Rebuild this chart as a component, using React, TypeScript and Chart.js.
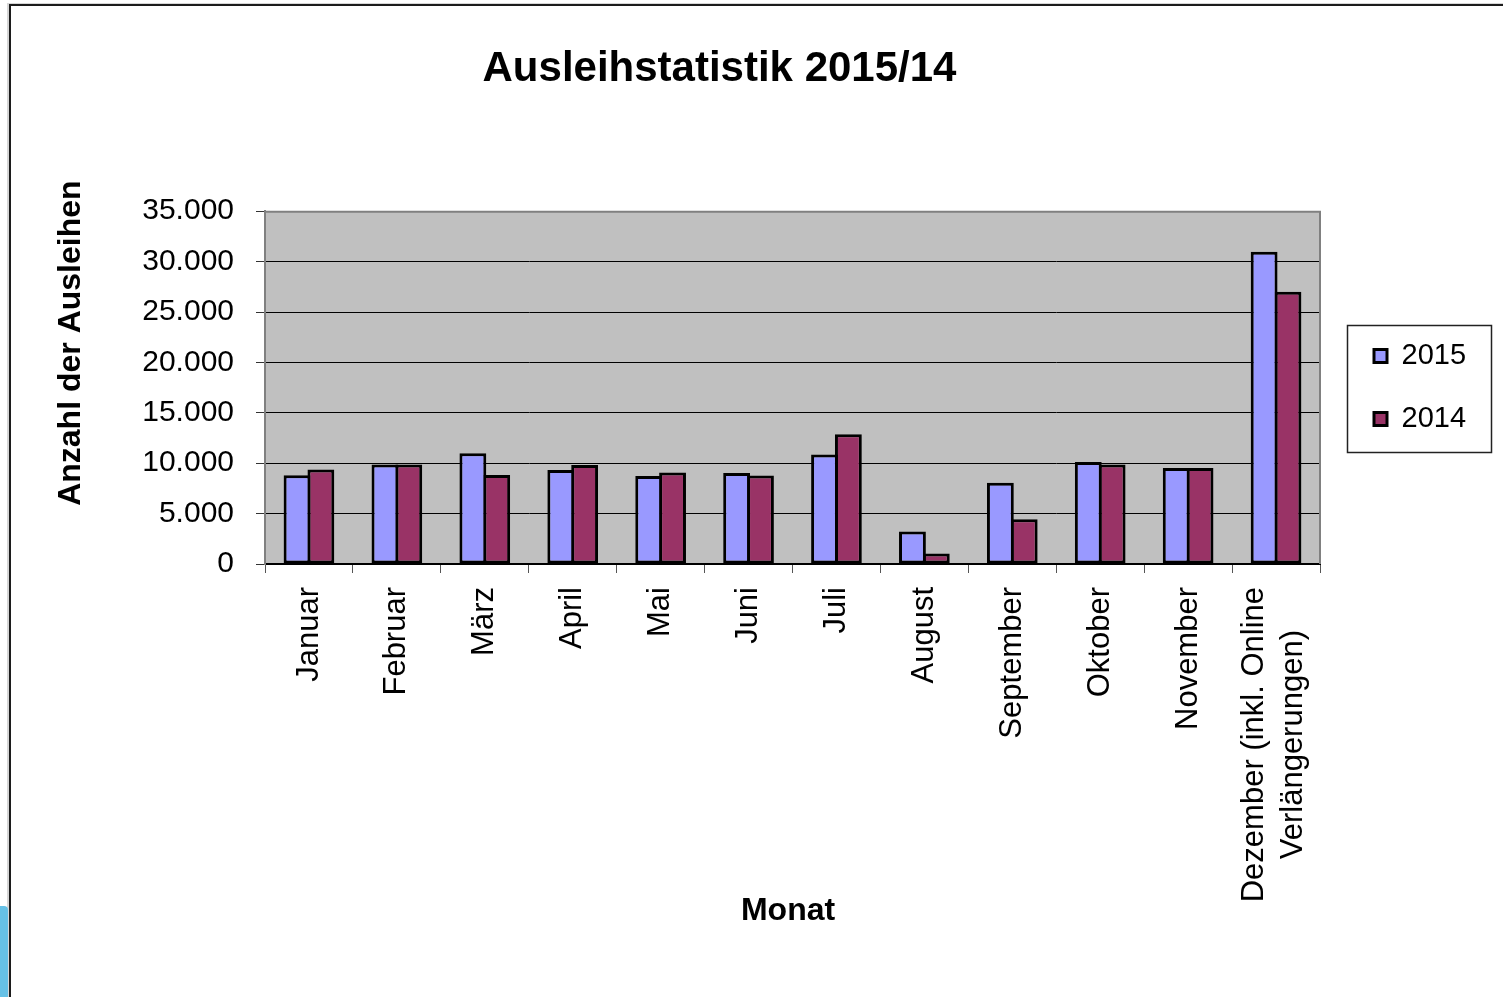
import React, { useEffect, useRef } from 'react';
import { Chart, registerables } from 'chart.js';

Chart.register(...registerables);

const FONT = "'Liberation Sans', Arial, Helvetica, sans-serif";

const CHART_TITLE = 'Ausleihstatistik 2015/14';
const Y_TITLE = 'Anzahl der Ausleihen';
const X_TITLE = 'Monat';

const MONTHS: (string | string[])[] = [
  'Januar',
  'Februar',
  'März',
  'April',
  'Mai',
  'Juni',
  'Juli',
  'August',
  'September',
  'Oktober',
  'November',
  ['Dezember (inkl. Online', 'Verlängerungen)'],
];

const SERIES_LABELS = ['2015', '2014'];
const VALUES_2015 = [8800, 9870, 10990, 9330, 8730, 9030, 10860, 3230, 8070, 10120, 9530, 30970];
const VALUES_2014 = [9370, 9870, 8830, 9820, 9070, 8770, 12880, 1040, 4450, 9860, 9530, 27000];

const Y_MIN = 0;
const Y_MAX = 35000;
const Y_STEP = 5000;

const fmt = (v: number) => String(Math.round(v)).replace(/\B(?=(\d{3})+(?!\d))/g, '.');

const decorPlugin = {
  id: 'decor',
  beforeDraw(chart: any) {
    const { ctx, chartArea: a } = chart;
    ctx.save();
    ctx.fillStyle = '#C0C0C0';
    ctx.fillRect(a.left, a.top, a.right - a.left, a.bottom - a.top);
    ctx.restore();
    // center multi-line category labels around their tick
    const xs = chart.scales.x;
    const items = xs.getLabelItems();
    items.forEach((item: any) => {
      if (!Array.isArray(item.label) || item._centered) return;
      const lh = item.font.lineHeight;
      const n = item.label.length;
      ctx.save();
      ctx.font = item.font.string;
      const w = Math.max(...item.label.map((s: string) => ctx.measureText(s).width));
      ctx.restore();
      const tr = item.options.translation;
      item.options.translation = [tr[0] - ((n - 1) * lh) / 2 - 2, tr[1] + w / 2];
      item.options.textAlign = 'center';
      item._centered = true;
    });
  },
  beforeDatasetsDraw(chart: any) {
    const { ctx, chartArea: a } = chart;
    ctx.save();
    ctx.strokeStyle = '#808080';
    ctx.lineWidth = 2;
    ctx.beginPath();
    ctx.moveTo(a.left, a.top + 0.5);
    ctx.lineTo(a.right, a.top + 0.5);
    ctx.lineTo(a.right, a.bottom);
    ctx.stroke();
    ctx.restore();
  },
  afterDraw(chart: any) {
    const { ctx } = chart;
    const hb = chart.legend && chart.legend.legendHitBoxes;
    if (!hb || !hb.length) return;
    const first = hb[0];
    const last = hb[hb.length - 1];
    const left = first.left - 27;
    const right = first.left + 117;
    const top = first.top - 17;
    const bottom = last.top + last.height + 18;
    ctx.save();
    ctx.strokeStyle = '#222';
    ctx.lineWidth = 1.5;
    ctx.strokeRect(Math.round(left) + 0.5, Math.round(top) + 0.5, Math.round(right - left), Math.round(bottom - top));
    ctx.restore();
  },
};

export default function App() {
  const canvasRef = useRef<HTMLCanvasElement | null>(null);

  useEffect(() => {
    if (!canvasRef.current) return;
    Chart.defaults.font.family = FONT;
    Chart.defaults.color = '#000';
    const chart = new Chart(canvasRef.current, {
      type: 'bar',
      data: {
        labels: MONTHS,
        datasets: [
          {
            label: SERIES_LABELS[0],
            data: VALUES_2015,
            backgroundColor: '#9999FF',
            borderColor: '#000',
            borderWidth: 3,
            borderSkipped: false,
            categoryPercentage: 0.5425,
            barPercentage: 1.126,
          },
          {
            label: SERIES_LABELS[1],
            data: VALUES_2014,
            backgroundColor: '#993366',
            borderColor: '#000',
            borderWidth: 3,
            borderSkipped: false,
            categoryPercentage: 0.5425,
            barPercentage: 1.126,
          },
        ],
      },
      options: {
        responsive: false,
        animation: false,
        devicePixelRatio: 1,
        events: [],
        layout: { padding: { left: 0, right: 29, top: 0, bottom: 63 } },
        plugins: {
          title: {
            display: true,
            text: CHART_TITLE + '   ',
            color: '#000',
            font: { size: 42, weight: 'bold', family: FONT },
            padding: { top: 44.4, bottom: 116.4 },
          },
          legend: {
            display: true,
            position: 'right',
            fullSize: false,
            align: 'center',
            maxWidth: 134,
            labels: {
              boxWidth: 13,
              boxHeight: 13,
              padding: 34,
              color: '#000',
              font: { size: 29, family: FONT },
            },
          },
          tooltip: { enabled: false },
        },
        scales: {
          x: {
            type: 'category',
            position: 'bottom',
            offset: true,
            grid: {
              offset: true,
              drawOnChartArea: false,
              drawTicks: true,
              tickLength: 9,
              color: '#555',
              lineWidth: 1,
            },
            border: { display: true, color: '#000', width: 2 },
            ticks: {
              autoSkip: false,
              minRotation: 90,
              maxRotation: 90,
              padding: 14,
              color: '#000',
              font: { size: 31, lineHeight: 1.25, family: FONT },
            },
            title: {
              display: true,
              text: X_TITLE + ' ',
              color: '#000',
              font: { size: 32, weight: 'bold', family: FONT },
              padding: { top: 4, bottom: 4 },
            },
            afterFit: (s: any) => {
              s.height = 370;
            },
          },
          y: {
            position: 'left',
            min: Y_MIN,
            max: Y_MAX,
            ticks: {
              stepSize: Y_STEP,
              padding: 22,
              color: '#000',
              font: { size: 30, family: FONT },
              callback: (v: any) => fmt(Number(v)),
            },
            grid: {
              color: '#000',
              lineWidth: 1,
              drawTicks: true,
              tickLength: 9,
              tickColor: '#333',
            },
            border: { display: true, color: '#808080', width: 2 },
            title: {
              display: true,
              text: ' '.repeat(10) + Y_TITLE,
              color: '#000',
              font: { size: 32, weight: 'bold', family: FONT },
              padding: { top: 52, bottom: 0 },
            },
            afterFit: (s: any) => {
              s.width = 265;
            },
          },
          spacer: {
            type: 'linear',
            position: 'right',
            display: true,
            grid: { display: false, drawTicks: false },
            ticks: { display: false },
            border: { display: false },
            afterFit: (s: any) => {
              s.width = 20;
            },
          },
        },
      } as any,
      plugins: [decorPlugin as any],
    });
    return () => chart.destroy();
  }, []);

  return (
    <div
      style={{
        position: 'absolute',
        left: 0,
        top: 0,
        width: 1503,
        height: 997,
        overflow: 'hidden',
        background: '#fff',
      }}
    >
      <div
        style={{
          position: 'absolute',
          left: 9,
          top: 4,
          width: 1500,
          height: 1000,
          borderTop: '2px solid #1c1c1c',
          borderLeft: '2px solid #1c1c1c',
          boxShadow: '-2px -1px 0 #d6d6d6',
        }}
      />
      <div
        style={{
          position: 'absolute',
          left: 0,
          top: 906,
          width: 8,
          height: 91,
          background: '#66C1E6',
          borderTopRightRadius: 4,
        }}
      />
      <canvas
        ref={canvasRef}
        width={1503}
        height={997}
        style={{ position: 'absolute', left: 0, top: 0, display: 'block' }}
      />
    </div>
  );
}
